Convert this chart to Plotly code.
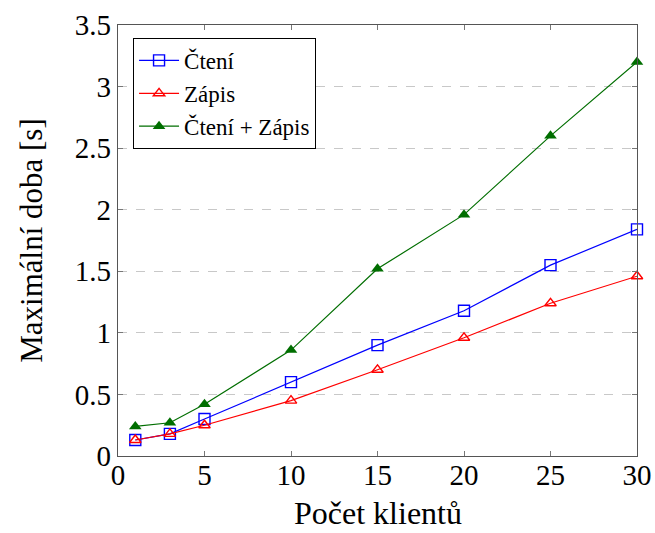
import plotly.graph_objects as go

clients = [1, 3, 5, 10, 15, 20, 25, 30]
cteni = [0.13, 0.18, 0.30, 0.60, 0.90, 1.18, 1.55, 1.84]
zapis = [0.13, 0.18, 0.25, 0.45, 0.70, 0.96, 1.24, 1.46]
cteni_zapis = [0.24, 0.27, 0.42, 0.86, 1.52, 1.96, 2.60, 3.20]

x_ticks = [0, 5, 10, 15, 20, 25, 30]
y_ticks = [0, 0.5, 1, 1.5, 2, 2.5, 3, 3.5]
y_tick_labels = ["0", "0.5", "1", "1.5", "2", "2.5", "3", "3.5"]
x_title = "Počet klientů"
y_title = "Maximální doba [s]"

FONT = "Liberation Serif"

fig = go.Figure()
fig.add_trace(go.Scatter(
    x=clients, y=cteni, name="Čtení", mode="lines+markers",
    line=dict(color="rgb(0,0,255)", width=1.2),
    marker=dict(symbol="square-open", size=11, color="rgb(0,0,255)", line=dict(width=1.4)),
    cliponaxis=False))
fig.add_trace(go.Scatter(
    x=clients, y=zapis, name="Zápis", mode="lines+markers",
    line=dict(color="rgb(255,0,0)", width=1.2),
    marker=dict(symbol="triangle-up-open", size=10, color="rgb(255,0,0)", line=dict(width=1.4)),
    cliponaxis=False))
fig.add_trace(go.Scatter(
    x=clients, y=cteni_zapis, name="Čtení + Zápis", mode="lines+markers",
    line=dict(color="rgb(0,110,0)", width=1.2),
    marker=dict(symbol="triangle-up", size=11, color="rgb(0,110,0)"),
    cliponaxis=False))

axis_common = dict(
    showline=True, linecolor="#555", linewidth=1.3, mirror="allticks",
    ticks="inside", ticklen=5, tickcolor="#777", tickwidth=1,
    zeroline=False, automargin=False,
    tickfont=dict(family=FONT, size=29, color="black"),
)

fig.update_xaxes(range=[0, 30], tickvals=x_ticks, showgrid=False,
                 ticklabelstandoff=-7, **axis_common)
fig.update_yaxes(range=[0, 3.5], tickvals=y_ticks, ticktext=y_tick_labels,
                 showgrid=True, gridcolor="#c8c8c8", griddash="dash", gridwidth=1,
                 title=dict(text=y_title, font=dict(family=FONT, size=31, color="black"), standoff=22),
                 **axis_common)

fig.add_annotation(text=x_title, xref="paper", yref="paper", x=0.5, y=0,
                   xanchor="center", yanchor="middle", yshift=-57, showarrow=False,
                   font=dict(family=FONT, size=32, color="black"))

fig.update_layout(
    width=655, height=533,
    margin=dict(l=118, r=18, t=25, b=77),
    paper_bgcolor="white", plot_bgcolor="white",
    font=dict(family=FONT, color="black"),
    showlegend=True,
    legend=dict(x=0.029, y=0.97, xanchor="left", yanchor="top",
                bgcolor="white", bordercolor="black", borderwidth=1,
                font=dict(family=FONT, size=23, color="black"),
                tracegroupgap=0, itemwidth=40),
)

fig.write_html("out.html", config={"displayModeBar": False},
               post_script="document.body.style.margin='0';document.body.style.padding='0';")
